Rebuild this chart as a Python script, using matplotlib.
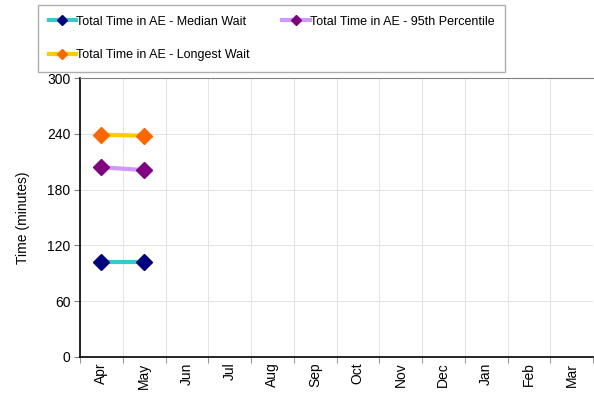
import matplotlib
matplotlib.use("Agg")
import matplotlib.pyplot as plt
import numpy as np

months = ["Apr", "May", "Jun", "Jul", "Aug", "Sep", "Oct", "Nov", "Dec", "Jan", "Feb", "Mar"]

median_wait = [102, 102]
pct95_wait = [204, 201]
longest_wait = [239, 238]

series = [
    ("Total Time in AE - Median Wait", median_wait, "#33CCCC", "#000080"),
    ("Total Time in AE - 95th Percentile", pct95_wait, "#CC99FF", "#800080"),
    ("Total Time in AE - Longest Wait", longest_wait, "#FFCC00", "#FF6600"),
]

plt.rcParams["font.family"] = ["Liberation Sans", "DejaVu Sans"]
plt.rcParams["font.size"] = 10

fig = plt.figure(figsize=(5.94, 3.95), dpi=100)
ax = fig.add_axes([80 / 594, 38 / 395, 513 / 594, 279 / 395])

handles = []
for label, values, line_col, mark_col in series:
    x = np.arange(len(values))
    (h,) = ax.plot(x, values, color=line_col, linewidth=3,
                   marker="D", markersize=8, markerfacecolor=mark_col,
                   markeredgecolor=mark_col, label=label)
    handles.append(h)

ax.set_xlim(-0.5, len(months) - 0.5)
ax.set_ylim(0, 300)
ax.set_yticks(np.arange(0, 301, 60))
ax.set_xticks(np.arange(len(months)))
ax.set_xticklabels(months, rotation=90)
ax.set_xticks(np.arange(len(months) + 1) - 0.5, minor=True)
ax.tick_params(axis="x", which="major", length=0, pad=4)
ax.tick_params(axis="x", which="minor", length=4, color="#808080")
ax.tick_params(axis="y", length=4, color="#808080", pad=3)

ax.grid(True, axis="y", color="#e3e3e3", linewidth=0.7)
ax.grid(True, axis="x", which="minor", color="#e3e3e3", linewidth=0.7)
ax.set_axisbelow(True)

ax.spines["right"].set_visible(False)
ax.spines["top"].set_color("#808080")
ax.spines["left"].set_linewidth(1.2)
ax.spines["bottom"].set_linewidth(1.2)

ax.set_ylabel("Time (minutes)", labelpad=12)

# column-major fill, so reorder to get two entries on the first row
order = [0, 2, 1]
leg = fig.legend([handles[i] for i in order], [series[i][0] for i in order],
                 ncol=2, loc="upper left", bbox_to_anchor=(38 / 594, 1 - 5 / 395),
                 frameon=True, fancybox=False, borderpad=0.85, labelspacing=1.7,
                 handlelength=2.2, handletextpad=0.0, columnspacing=2.6,
                 numpoints=1, borderaxespad=0, markerscale=0.7, fontsize=9)
leg.get_frame().set_edgecolor("#999999")
leg.get_frame().set_linewidth(1.0)

fig.savefig("out.png", dpi=100)
